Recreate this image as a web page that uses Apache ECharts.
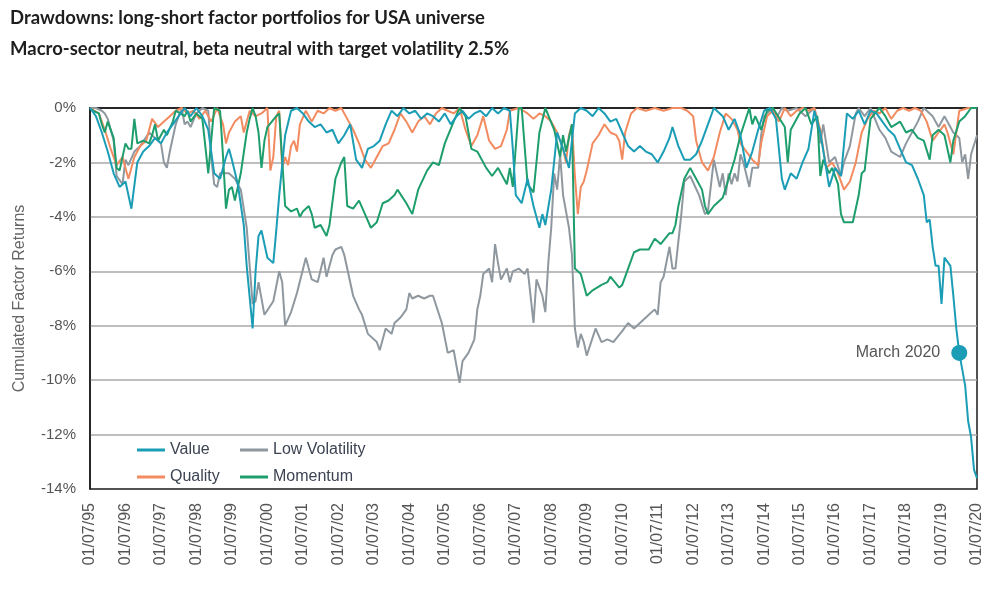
<!DOCTYPE html>
<html>
<head>
<meta charset="utf-8">
<script src="https://cdn.jsdelivr.net/npm/echarts@6/dist/echarts.min.js"></script>
<style>html,body{margin:0;padding:0;background:#fff}#chart{width:1000px;height:600px}</style>
</head>
<body>
<div id="chart"></div>
<script>
// x = months since 01/07/1995, y = drawdown in %
const yearLabels = ['01/07/95','01/07/96','01/07/97','01/07/98','01/07/99','01/07/00','01/07/01','01/07/02','01/07/03','01/07/04','01/07/05','01/07/06','01/07/07','01/07/08','01/07/09','01/07/10','01/07/11','01/07/12','01/07/13','01/07/14','01/07/15','01/07/16','01/07/17','01/07/18','01/07/19','01/07/20'];

const valueData = [[0,0],[2,-0.3],[4,-0.9],[6,-1.6],[8,-2.4],[10,-2.9],[12,-2.7],[14,-3.7],[16,-2.0],[18,-1.6],[20,-1.4],[22,-1.1],[24,-1.3],[26,-0.9],[28,-0.6],[30,-0.3],[32,0],[34,-0.3],[36,0],[38,-0.3],[40,-0.8],[41,-1.6],[42,-2.4],[44,-2.6],[46,-1.8],[47,-1.5],[48,-1.9],[50,-2.8],[52,-4.3],[53,-5.8],[55,-8.1],[56,-6.0],[57,-4.7],[58,-4.5],[60,-5.5],[62,-5.7],[63,-4.5],[64,-3.2],[66,-1.0],[68,-0.1],[70,0],[72,-0.2],[74,-0.5],[76,-0.7],[78,-0.6],[80,-0.9],[82,-0.8],[84,-1.3],[86,-1.0],[88,-0.6],[90,-1.9],[92,-2.2],[94,-1.5],[96,-1.4],[98,-1.2],[100,-0.6],[102,-0.1],[104,-0.3],[106,0],[108,-0.2],[110,-0.1],[112,-0.4],[114,-0.2],[116,-0.3],[118,-0.5],[120,-0.2],[122,-0.6],[124,-0.3],[126,-0.1],[128,-0.4],[130,-0.2],[132,-0.1],[134,-0.3],[136,0],[138,-0.2],[140,0],[142,-0.1],[143,-1.5],[144,-3.2],[146,-3.5],[148,-2.6],[150,-3.6],[152,-4.4],[153,-3.9],[154,-4.3],[156,-3.0],[158,-0.9],[160,-1.5],[162,-2.2],[164,-0.2],[166,0],[168,-0.1],[170,-0.3],[172,0],[174,-0.2],[176,-0.5],[178,-0.4],[180,-0.9],[182,-1.4],[184,-1.6],[186,-1.4],[188,-1.6],[190,-1.7],[192,-2.0],[194,-1.6],[196,-1.1],[197,-0.7],[199,-1.4],[201,-1.9],[203,-1.9],[205,-1.7],[207,-1.2],[209,-0.6],[211,0],[214,-0.3],[216,-0.8],[218,-0.4],[220,-1.0],[222,-2.2],[224,-1.6],[226,-0.8],[228,-0.1],[230,0],[232,-0.4],[234,-2.6],[235,-3.0],[237,-2.4],[239,-2.6],[241,-2.0],[243,-1.5],[245,-0.1],[247,-0.9],[250,-2.9],[252,-2.2],[254,-2.5],[256,-0.2],[258,-0.4],[260,-0.1],[262,-0.6],[264,-0.1],[266,-0.2],[268,-0.5],[270,-0.8],[272,-1.0],[274,-1.5],[276,-2.0],[278,-2.1],[280,-2.6],[282,-3.2],[283,-4.2],[284,-4.1],[285,-5.1],[286,-5.8],[287,-5.8],[288,-7.2],[289,-5.5],[291,-5.8],[292,-6.9],[293,-8.1],[294,-9.0],[296,-10.2],[297,-11.5],[298,-12.1],[299,-13.3],[300,-13.6]];

const qualityData = [[0,0],[3,-0.2],[5,-0.8],[7,-1.5],[9,-2.1],[11,-1.8],[13,-2.6],[15,-1.8],[17,-1.4],[19,-1.2],[21,-0.4],[23,-0.7],[25,-0.5],[27,-0.3],[29,-0.1],[31,0],[33,-0.2],[35,-0.1],[37,-0.4],[39,-0.1],[41,-0.5],[43,0],[45,-0.6],[46,-1.3],[47,-0.9],[49,-0.5],[51,-0.3],[52,-0.9],[54,-0.1],[56,-0.3],[58,-0.2],[60,0],[61,-2.3],[62,-1.8],[63,-0.3],[64,-0.1],[65,-2.2],[66,-1.8],[67,-2.1],[68,-1.4],[69,-1.2],[70,-1.6],[71,-0.6],[73,-0.1],[75,-0.5],[77,-0.1],[79,-0.2],[81,0],[83,-0.1],[85,0],[87,-0.4],[89,-0.8],[91,-1.3],[93,-1.9],[95,-2.2],[97,-1.8],[99,-1.4],[101,-1.3],[103,-0.8],[105,-0.2],[107,-0.5],[109,-0.9],[111,-0.5],[113,-0.3],[115,-0.6],[117,-0.2],[119,0],[121,-0.1],[123,-0.2],[125,0],[127,-0.8],[129,-1.4],[131,-1.0],[133,-0.3],[135,-1.2],[137,-1.5],[139,-1.4],[141,-0.8],[142,-0.1],[145,0],[148,-0.2],[150,-0.4],[152,-0.2],[154,-0.3],[156,-0.5],[158,-0.9],[160,-1.5],[161,-2.0],[162,-1.0],[163,-0.6],[164,-2.5],[165,-3.9],[166,-2.9],[167,-2.7],[168,-2.3],[170,-1.3],[172,-1.0],[174,-0.6],[176,-0.9],[178,-1.0],[179,-1.2],[180,-1.9],[181,-0.9],[183,-0.2],[185,0],[188,-0.1],[191,0],[194,-0.1],[197,0],[200,0],[202,-0.1],[204,-0.3],[205,-1.2],[207,-2.0],[209,-2.3],[211,-1.8],[213,-0.9],[215,-0.2],[217,-0.4],[219,-0.8],[220,-1.3],[222,-1.6],[224,-1.9],[226,-2.1],[227,-1.3],[229,-0.3],[231,-0.1],[233,-0.5],[235,0],[237,-0.3],[239,-0.1],[241,0],[243,-0.1],[245,0],[247,-0.8],[249,-2.2],[251,-2.0],[253,-2.4],[255,-3.0],[257,-2.7],[259,-2.0],[261,-0.9],[263,-0.4],[265,-0.1],[267,-0.2],[269,0],[271,-0.4],[273,-0.1],[275,0],[277,-0.1],[279,0],[281,-0.1],[283,-0.5],[285,-1.2],[287,-0.9],[289,-0.6],[290,-0.9],[292,-1.7],[293,-0.9],[294,-0.1],[297,0],[300,0]];

const lowVolData = [[0,0],[2,0],[4,-0.1],[5,-0.2],[6,-0.4],[8,-1.2],[9,-2.5],[11,-2.8],[12,-1.9],[13,-2.1],[15,-1.6],[17,-1.4],[20,-0.9],[22,-1.1],[24,-1.3],[25,-2.0],[26,-2.2],[27,-1.6],[29,-0.6],[31,0],[32,-0.6],[33,-0.5],[34,-0.7],[36,-0.2],[37,-0.1],[38,0],[40,-0.1],[41,-1.8],[42,-2.8],[43,-2.9],[44,-2.4],[47,-2.4],[49,-2.6],[51,-3.0],[53,-4.4],[54,-5.8],[55,-7.2],[56,-7.1],[57,-6.4],[59,-7.6],[62,-7.1],[64,-6.0],[65,-6.4],[66,-8.0],[68,-7.5],[70,-6.8],[73,-5.5],[75,-6.3],[77,-6.4],[79,-5.5],[80,-6.2],[82,-5.4],[83,-5.2],[85,-5.1],[86,-5.4],[89,-6.9],[91,-7.4],[92,-7.6],[94,-8.3],[97,-8.6],[98,-8.9],[100,-8.1],[102,-8.3],[103,-7.9],[105,-7.7],[107,-7.4],[108,-6.8],[109,-7.0],[111,-6.9],[113,-7.0],[115,-6.9],[116,-6.9],[119,-7.9],[121,-9.0],[123,-8.9],[125,-10.1],[126,-9.3],[128,-9.0],[130,-8.5],[131,-7.4],[132,-6.9],[133,-6.1],[135,-5.9],[136,-6.4],[137,-5.0],[138,-5.7],[139,-6.3],[141,-5.9],[142,-6.4],[143,-6.0],[145,-5.9],[147,-6.1],[148,-5.9],[150,-7.9],[151,-6.3],[153,-6.9],[154,-7.5],[155,-5.7],[156,-4.4],[157,-2.4],[158,-3.0],[159,-1.7],[160,-3.2],[162,-4.4],[163,-5.4],[164,-8.1],[165,-8.8],[166,-8.3],[167,-8.6],[168,-9.1],[171,-8.1],[173,-8.6],[175,-8.5],[177,-8.6],[180,-8.2],[182,-7.9],[184,-8.1],[186,-7.9],[189,-7.6],[191,-7.4],[192,-7.6],[193,-6.4],[194,-6.2],[196,-5.1],[197,-5.9],[198,-5.9],[199,-4.9],[200,-3.9],[201,-2.7],[203,-2.5],[206,-3.2],[208,-3.9],[209,-3.8],[211,-1.9],[213,-2.9],[214,-2.4],[215,-3.2],[216,-2.4],[217,-2.8],[218,-2.4],[219,-2.7],[220,-1.7],[221,-2.0],[223,-2.9],[224,-2.2],[226,-2.2],[227,-1.0],[228,-0.3],[231,0],[232,-0.4],[234,0],[236,-0.1],[239,0],[242,-0.3],[244,-0.1],[245,0],[247,-1.3],[248,-0.6],[250,-2.0],[252,-1.8],[254,-2.5],[255,-2.0],[257,-1.4],[258,-0.8],[259,-0.2],[260,0],[262,-0.3],[264,0],[267,-0.8],[269,-1.1],[271,-1.6],[274,-1.8],[276,-1.3],[278,-0.9],[280,-0.5],[282,0],[285,-0.3],[287,-0.7],[289,-0.3],[292,-0.9],[294,-1.1],[295,-2.0],[296,-1.7],[297,-2.6],[298,-1.7],[300,-1.0]];

const momentumData = [[0,0],[1,-0.1],[3,-0.2],[4,-0.6],[5,-0.9],[6,-0.5],[8,-1.1],[9,-2.2],[10,-2.3],[12,-1.3],[13,-1.5],[14,-1.5],[15,-0.4],[16,-1.3],[18,-1.2],[20,-1.3],[21,-1.0],[22,-0.6],[23,-1.2],[25,-0.8],[26,-1.0],[28,-0.5],[29,-0.1],[32,-0.3],[33,-0.1],[34,-0.5],[36,-0.2],[38,-0.4],[39,-1.4],[40,-2.4],[41,-1.2],[42,0],[44,-0.1],[45,-1.8],[46,-3.7],[47,-3.0],[48,-2.9],[49,-3.4],[50,-2.9],[51,-2.4],[53,-0.9],[54,-0.4],[55,0],[56,-0.3],[57,-0.9],[58,-2.2],[59,-1.2],[60,-0.7],[63,-0.3],[64,-0.2],[65,-1.9],[66,-3.6],[68,-3.8],[70,-3.7],[71,-4.0],[72,-3.8],[74,-3.6],[75,-3.9],[76,-4.4],[78,-4.3],[80,-4.7],[81,-4.3],[83,-2.6],[85,-2.0],[86,-1.8],[87,-3.6],[89,-3.7],[91,-3.4],[93,-3.9],[95,-4.4],[97,-4.2],[99,-3.5],[101,-3.4],[103,-3.2],[104,-3.0],[107,-3.5],[109,-3.9],[111,-3.0],[114,-2.3],[116,-2.0],[118,-2.1],[120,-1.3],[123,-0.5],[125,0],[127,-0.3],[129,-1.5],[131,-1.6],[134,-2.2],[136,-2.5],[138,-2.2],[141,-2.8],[142,-2.2],[143,-2.9],[145,0],[146,0],[148,-2.8],[150,-3.1],[152,-0.9],[154,0],[157,-0.8],[159,-1.8],[160,-1.0],[161,-1.6],[163,-0.6],[164,-5.9],[166,-6.1],[168,-6.9],[170,-6.7],[173,-6.5],[175,-6.4],[176,-6.2],[179,-6.6],[180,-6.5],[182,-5.9],[184,-5.3],[186,-5.2],[189,-5.2],[191,-4.8],[193,-5.0],[196,-4.6],[197,-4.6],[198,-4.3],[199,-3.6],[200,-3.1],[201,-2.6],[203,-2.2],[205,-2.6],[207,-3.0],[208,-3.6],[209,-3.9],[211,-3.6],[214,-3.3],[216,-2.6],[218,-1.9],[220,-1.0],[223,0],[224,-0.6],[225,-0.3],[227,-0.8],[229,-0.1],[231,0],[235,-0.7],[236,-2.0],[237,-0.8],[240,-0.2],[242,0],[244,-0.6],[246,-0.3],[247,-2.5],[248,-1.9],[250,-2.4],[251,-2.2],[253,-2.8],[254,-3.9],[255,-4.2],[258,-4.2],[260,-3.2],[261,-2.4],[262,-2.3],[264,-0.4],[267,0],[269,-0.3],[271,-0.7],[274,-0.5],[276,-0.9],[278,-0.8],[280,-1.1],[282,-1.2],[284,-1.9],[285,-1.0],[287,-0.8],[289,-1.0],[291,-2.0],[292,-1.2],[294,-0.5],[296,-0.3],[298,0],[300,0]];

const annotationMonth = 294;
const annotationText = 'March 2020';

const FONT = '"Liberation Sans", Arial, sans-serif';
const colors = { value: '#1b9db6', quality: '#f28b60', lowVol: '#8f989f', momentum: '#1d9e6c' };
const marchPoint = valueData.find(d => d[0] === annotationMonth);

const chart = echarts.init(document.getElementById('chart'), null, { renderer: 'canvas' });

function lineSeries(name, data, color) {
  return {
    name, type: 'line', data, symbol: 'none', smooth: false,
    lineStyle: { color, width: 2 }, itemStyle: { color },
    emphasis: { disabled: true }, animation: false
  };
}

const legendBase = {
  orient: 'vertical', top: 442, padding: 0,
  icon: 'path://M0,0 L28,0 L28,3 L0,3 Z', symbolKeepAspect: true,
  itemWidth: 28, itemHeight: 14, itemGap: 11,
  textStyle: { fontFamily: FONT, fontSize: 16, color: '#3c4352' }
};

chart.setOption({
  animation: false,
  title: {
    text: 'Drawdowns: long-short factor portfolios for USA universe\nMacro-sector neutral, beta neutral with target volatility 2.5%',
    left: 10, top: 3, padding: 0,
    textStyle: { fontFamily: 'Lato, sans-serif', fontSize: 18.5, fontWeight: 'bold', color: '#1e1e1e', lineHeight: 31 }
  },
  legend: [
    Object.assign({}, legendBase, { data: ['Value', 'Quality'], left: 137 }),
    Object.assign({}, legendBase, { data: ['Low Volatility', 'Momentum'], left: 240 })
  ],
  grid: { left: 90, right: 23, top: 108, bottom: 111, show: true, borderColor: '#1a1a1a', borderWidth: 1.5 },
  xAxis: {
    type: 'value', min: 0, max: 300, interval: 12,
    axisLine: { show: true, lineStyle: { color: '#1a1a1a', width: 1.5 } },
    axisTick: { show: false },
    splitLine: { show: false },
    axisLabel: {
      rotate: 90, margin: 14, fontFamily: FONT, fontSize: 16, color: '#555',
      formatter: v => yearLabels[Math.round(v / 12)]
    }
  },
  yAxis: {
    type: 'value', min: -14, max: 0, interval: 2,
    name: 'Cumulated Factor Returns', nameLocation: 'middle', nameGap: 62, nameRotate: 90,
    nameTextStyle: { fontFamily: FONT, fontSize: 16, color: '#666' },
    axisLine: { show: true, lineStyle: { color: '#1a1a1a', width: 1.5 } },
    axisTick: { show: false },
    splitLine: { show: true, showMinLine: false, showMaxLine: false, lineStyle: { color: '#a8a8a8', width: 1.5 } },
    axisLabel: { margin: 14, fontFamily: FONT, fontSize: 15, color: '#555', formatter: v => v + '%' }
  },
  series: [
    lineSeries('Low Volatility', lowVolData, colors.lowVol),
    lineSeries('Quality', qualityData, colors.quality),
    lineSeries('Momentum', momentumData, colors.momentum),
    lineSeries('Value', valueData, colors.value),
    {
      type: 'scatter', data: [marchPoint], symbolSize: 16, z: 5,
      itemStyle: { color: colors.value, opacity: 1 }, emphasis: { disabled: true },
      label: { show: true, position: 'left', distance: 11, formatter: annotationText,
        fontFamily: FONT, fontSize: 16, color: '#555' },
      silent: true
    }
  ]
});
</script>
</body>
</html>
